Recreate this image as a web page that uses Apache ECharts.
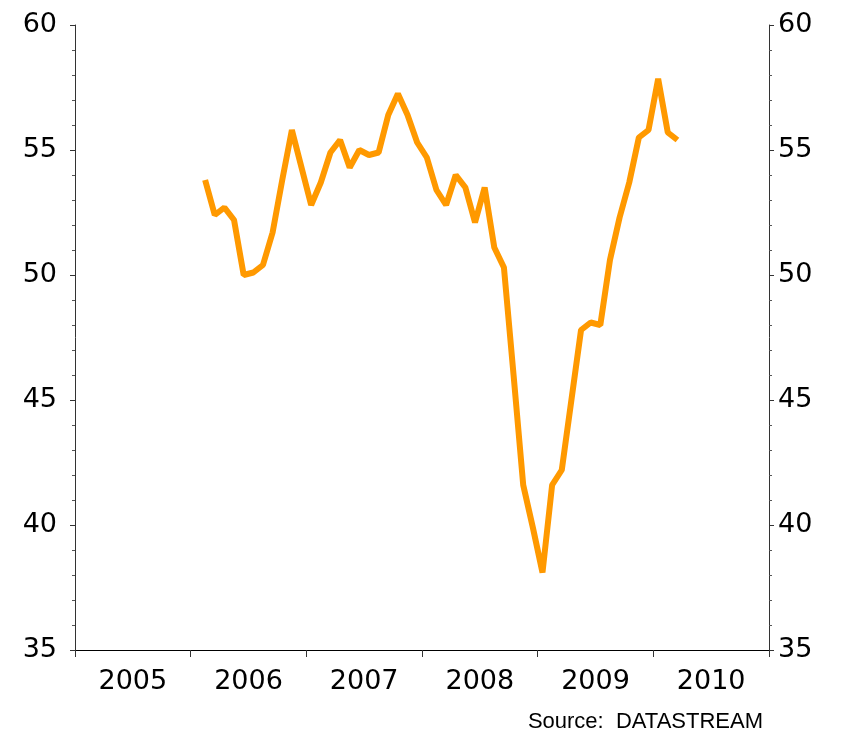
<!DOCTYPE html>
<html>
<head>
<meta charset="utf-8">
<script src="https://cdn.jsdelivr.net/npm/echarts@6/dist/echarts.min.js"></script>
<style>
  html, body { margin: 0; padding: 0; background: #fff; }
  #main { width: 841px; height: 737px; }
</style>
</head>
<body>
<div id="main"></div>
<script>
var years = ['2005', '2006', '2007', '2008', '2009', '2010'];
var yTicks = [35, 40, 45, 50, 55, 60];
// monthly readings, first one is Feb 2006 (month 13 counted from Jan 2005)
var firstMonth = 13;
var values = [
  53.8, 52.4, 52.7, 52.2, 50.0, 50.1, 50.4, 51.7, 53.8, 55.8,
  54.3, 52.8, 53.7, 54.9, 55.4, 54.3, 55.0, 54.8, 54.9, 56.4,
  57.25, 56.4, 55.3, 54.7, 53.4, 52.8, 54.0, 53.5, 52.1, 53.5,
  51.1, 50.3, 46.0, 41.6, 39.9, 38.1, 41.6, 42.2, 45.0, 47.8,
  48.1, 48.0, 50.6, 52.3, 53.7, 55.5, 55.8, 57.85, 55.7, 55.4
];

var points = values.map(function (v, i) {
  return [firstMonth + i + 0.5, v];   // centre of the month
});

var myChart = echarts.init(document.getElementById('main'));

var labelFont = { color: '#000', fontSize: 27, fontFamily: 'DejaVu Sans' };

var yAxisBase = {
  type: 'value',
  min: yTicks[0],
  max: yTicks[yTicks.length - 1],
  interval: 5,
  axisLine: { show: true, lineStyle: { color: '#333', width: 1 } },
  axisTick: { show: true, length: 5, lineStyle: { color: '#333' } },
  minorTick: { show: true, splitNumber: 5, length: 3, lineStyle: { color: '#555' } },
  splitLine: { show: false }
};

var option = {
  animation: false,
  backgroundColor: '#fff',
  grid: { left: 75, right: 72, top: 25, bottom: 87, containLabel: false },
  xAxis: [{
    type: 'value',
    min: 0,
    max: 72,
    interval: 12,
    axisLine: { show: true, onZero: false, lineStyle: { color: '#000', width: 1 } },
    axisTick: { show: true, length: 7, lineStyle: { color: '#333' } },
    axisLabel: { show: false },
    splitLine: { show: false }
  }, {
    type: 'category',
    data: years,
    position: 'bottom',
    boundaryGap: true,
    axisLine: { show: false },
    axisTick: { show: false },
    axisLabel: Object.assign({ margin: 18 }, labelFont)
  }],
  yAxis: [
    Object.assign({}, yAxisBase, { position: 'left',
      axisLabel: Object.assign({ margin: 18 }, labelFont) }),
    Object.assign({}, yAxisBase, { position: 'right',
      axisLabel: Object.assign({ margin: 9 }, labelFont) })
  ],
  series: [{
    type: 'line',
    xAxisIndex: 0,
    yAxisIndex: 0,
    symbol: 'none',
    data: points,
    lineStyle: { color: '#FF9900', width: 6 }
  }],
  graphic: [{
    type: 'text',
    right: 78,
    top: 711,
    style: {
      text: 'Source:  DATASTREAM',
      fill: '#000',
      fontSize: 22,
      fontFamily: 'Liberation Sans'
    }
  }]
};

myChart.setOption(option);
</script>
</body>
</html>
